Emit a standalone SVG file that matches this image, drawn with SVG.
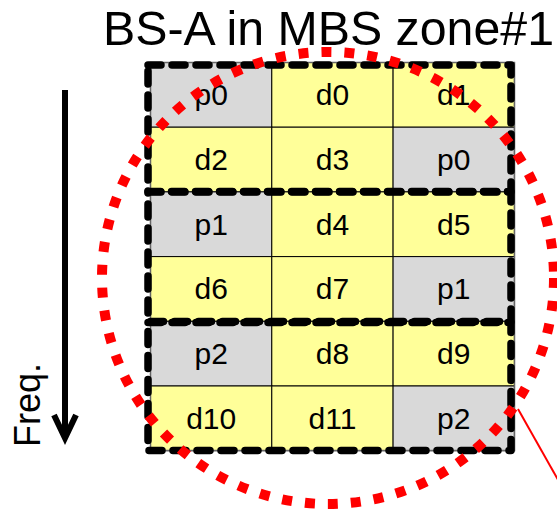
<svg xmlns="http://www.w3.org/2000/svg" width="557" height="515" viewBox="0 0 557 515">
  <style>
    .title { font-family: "Liberation Sans", Arial, sans-serif; font-size: 48px; fill: #000; }
    .lbl { font-family: "Liberation Sans", Arial, sans-serif; font-size: 30px; fill: #000; text-anchor: middle; }
    .axis { font-family: "Liberation Sans", Arial, sans-serif; font-size: 36px; fill: #000; }
    .p { fill: #d9d9d9; stroke: #000; stroke-width: 1; }
    .d { fill: #ffff99; stroke: #000; stroke-width: 1; }
    .grp { fill: none; stroke: #000; stroke-width: 7.5; stroke-dasharray: 13 11; stroke-linecap: round; stroke-linejoin: round; }
    .zone { fill: none; stroke: #ff0000; stroke-width: 10; stroke-dasharray: 10 13; }
  </style>

  <!-- title -->
  <text class="title" x="103" y="45" textLength="451" lengthAdjust="spacingAndGlyphs">BS-A in MBS zone#1</text>

  <!-- frequency axis -->
  <g id="freq-axis">
    <line x1="65" y1="90" x2="65" y2="436" stroke="#000" stroke-width="6"/>
    <polyline points="54,415 65,438 76,415" fill="none" stroke="#000" stroke-width="6"/>
    <text class="axis" transform="translate(40,447) rotate(-90)">Freq.</text>
  </g>

  <!-- resource grid: 3 columns x 6 rows -->
  <g id="grid">
    <g id="r0">
      <rect class="p" x="150.5" y="62.5" width="121.3" height="64.7"/><text class="lbl" x="211.2" y="105.3">p0</text>
      <rect class="d" x="271.8" y="62.5" width="121.3" height="64.7"/><text class="lbl" x="332.5" y="105.3">d0</text>
      <rect class="d" x="393.1" y="62.5" width="121.3" height="64.7"/><text class="lbl" x="453.8" y="105.3">d1</text>
    </g>
    <g id="r1">
      <rect class="d" x="150.5" y="127.2" width="121.3" height="64.7"/><text class="lbl" x="211.2" y="170">d2</text>
      <rect class="d" x="271.8" y="127.2" width="121.3" height="64.7"/><text class="lbl" x="332.5" y="170">d3</text>
      <rect class="p" x="393.1" y="127.2" width="121.3" height="64.7"/><text class="lbl" x="453.8" y="170">p0</text>
    </g>
    <g id="r2">
      <rect class="p" x="150.5" y="191.9" width="121.3" height="64.7"/><text class="lbl" x="211.2" y="234.7">p1</text>
      <rect class="d" x="271.8" y="191.9" width="121.3" height="64.7"/><text class="lbl" x="332.5" y="234.7">d4</text>
      <rect class="d" x="393.1" y="191.9" width="121.3" height="64.7"/><text class="lbl" x="453.8" y="234.7">d5</text>
    </g>
    <g id="r3">
      <rect class="d" x="150.5" y="256.6" width="121.3" height="64.7"/><text class="lbl" x="211.2" y="299.4">d6</text>
      <rect class="d" x="271.8" y="256.6" width="121.3" height="64.7"/><text class="lbl" x="332.5" y="299.4">d7</text>
      <rect class="p" x="393.1" y="256.6" width="121.3" height="64.7"/><text class="lbl" x="453.8" y="299.4">p1</text>
    </g>
    <g id="r4">
      <rect class="p" x="150.5" y="321.3" width="121.3" height="64.7"/><text class="lbl" x="211.2" y="364.1">p2</text>
      <rect class="d" x="271.8" y="321.3" width="121.3" height="64.7"/><text class="lbl" x="332.5" y="364.1">d8</text>
      <rect class="d" x="393.1" y="321.3" width="121.3" height="64.7"/><text class="lbl" x="453.8" y="364.1">d9</text>
    </g>
    <g id="r5">
      <rect class="d" x="150.5" y="386" width="121.3" height="64.7"/><text class="lbl" x="211.2" y="428.8">d10</text>
      <rect class="d" x="271.8" y="386" width="121.3" height="64.7"/><text class="lbl" x="332.5" y="428.8">d11</text>
      <rect class="p" x="393.1" y="386" width="121.3" height="64.7"/><text class="lbl" x="453.8" y="428.8">p2</text>
    </g>
    <rect x="150.5" y="62.5" width="364" height="388" fill="none" stroke="#666" stroke-width="1.5"/>
  </g>

  <!-- parity groups -->
  <g id="groups">
    <rect id="group0" class="grp" x="148" y="65" width="363" height="126.5"/>
    <rect id="group1" class="grp" x="148" y="192" width="363" height="129.5"/>
    <rect id="group2" class="grp" x="148" y="322.5" width="363" height="128"/>
  </g>

  <!-- MBS zone boundary -->
  <g id="zone">
    <circle class="zone" cx="328" cy="278" r="226"/>
  </g>

  <!-- connectors -->
  <g id="connectors">
    <line x1="518" y1="409" x2="570" y2="501" stroke="#ff0000" stroke-width="2"/>
  </g>
</svg>
